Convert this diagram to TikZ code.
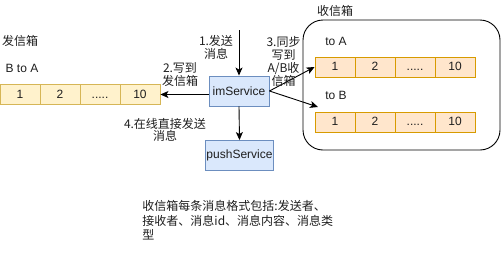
\documentclass[tikz,border=0pt]{standalone}
\usepackage{fontspec}
\setmainfont{Liberation Sans}
\newfontfamily\cjk{Noto Sans CJK SC}
\usetikzlibrary{positioning,arrows.meta}
\definecolor{sendfill}{HTML}{FFF2CC}
\definecolor{sendline}{HTML}{D6B656}
\definecolor{recvfill}{HTML}{FFE6CC}
\definecolor{recvline}{HTML}{D79B00}
\definecolor{svcfill}{HTML}{DAE8FC}
\definecolor{svcline}{HTML}{6C8EBF}
\definecolor{textgray}{RGB}{30,30,30}
\newcommand{\celldots}{.....}

\begin{document}
\begin{tikzpicture}[x=1pt,y=-1pt, line width=0.9pt,
    every node/.style={font=\fontsize{12}{13.5}\selectfont, text=textgray, inner sep=1pt},
    sendcell/.style={draw=sendline, fill=sendfill, minimum width=40pt, minimum height=20pt, text height=8.6pt, text depth=1.4pt},
    recvcell/.style={draw=recvline, fill=recvfill, minimum width=40pt, minimum height=20pt, text height=8.6pt, text depth=1.4pt},
    svcbox/.style={draw=svcline, fill=svcfill, minimum width=60pt, minimum height=30pt},
    flow/.style={-{Stealth[length=8pt,width=7pt,inset=2pt]}, black}]
      \useasboundingbox (0,0) rectangle (501,271);
      % send box
      \node (outlabel) at (20,41) {\cjk 发信箱};
      \node (btoa) at (22,68) {B to A};
      \foreach \i/\t in {1/1,2/2,3/\celldots,4/10}
        \node[sendcell] (ba\i) at ({20+40*(\i-1)},94.5) {\t};
      % receive box
      \node[draw, rounded corners=20pt, minimum width=197pt, minimum height=130pt] (inbox) at (401.5,85) {};
      \node (inlabel) at (335,11) {\cjk 收信箱};
      \node (toa) at (336,41) {to A};
      \node (tob) at (336,95) {to B};
      \foreach \i/\t in {1/1,2/2,3/\celldots,4/10} {
        \node[recvcell] (ta\i) at ({335+40*(\i-1)},67) {\t};
        \node[recvcell] (tb\i) at ({335+40*(\i-1)},122) {\t};
      }
      % services
      \node[svcbox] (im) at (239,91) {imService};
      \node[svcbox] (push) at (239.5,155.5) {pushService};
      \coordinate (imtop) at (239,30);
      \coordinate (tobtip) at (318,107);
      \draw[flow] (imtop) -- (im.north);
      \draw[flow] (im.west |- ba4.east) -- (ba4.east);
      \draw[flow] (im.east) -- (ta1.west);
      \draw[flow] (im.east) -- (tobtip);
      \draw[flow] (im.south) -- (push.north);
      % step labels
      \node[align=center, font=\cjk\fontsize{12}{12.5}\selectfont] (step1) at (216,47.5) {1.发送\\消息};
      \node[align=center, font=\cjk\fontsize{12}{12.5}\selectfont] (step2) at (180,74.5) {2.写到\\发信箱};
      \node[align=center, font=\cjk\fontsize{12}{13}\selectfont] (step3) at (283.5,61) {3.同步\\写到\\A/B收\\信箱};
      \node[align=center, font=\cjk\fontsize{12}{12.5}\selectfont] (step4) at (165,130) {4.在线直接发送\\消息};
      % note
      \node[anchor=north west, align=left, font=\cjk\fontsize{12}{14.5}\selectfont] (note) at (141,199) {收信箱每条消息格式包括:发送者、\\接收者、消息id、消息内容、消息类\\型};
    \end{tikzpicture}
\end{document}
